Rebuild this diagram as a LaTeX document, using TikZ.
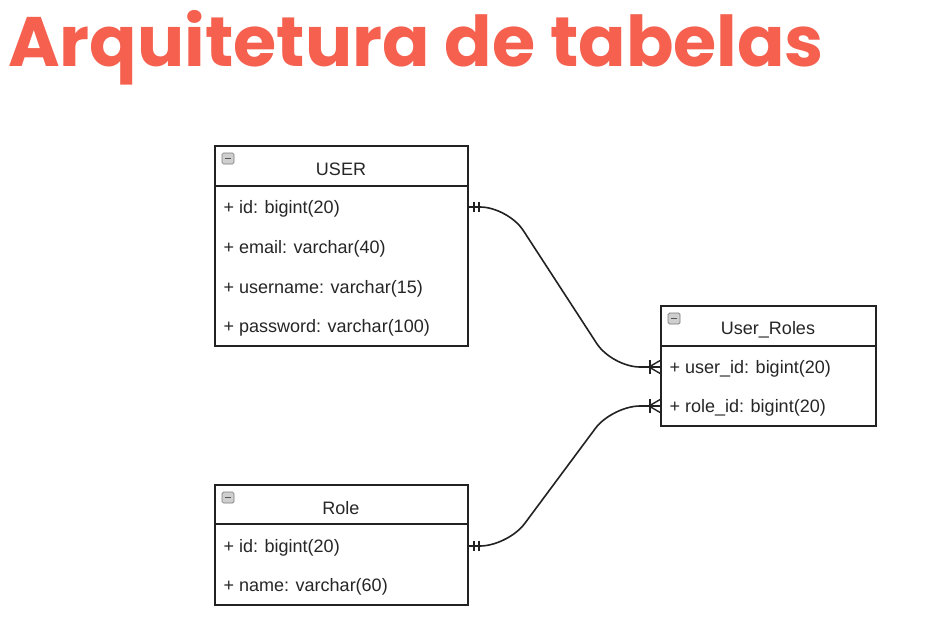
\documentclass[tikz,border=0pt]{standalone}
\usepackage{fontspec}
\setmainfont{Liberation Sans}
\newfontfamily\titlefont{Poppins}
\definecolor{titlered}{HTML}{F5604F}
\definecolor{iconfill}{HTML}{CFCFCF}
\definecolor{iconline}{HTML}{7A7A7A}
\definecolor{linecol}{HTML}{222222}
\begin{document}
\begin{tikzpicture}[x=1pt,y=-1pt,
  tbl/.style={draw=linecol,line width=1.3pt,fill=white},
  hdr/.style={font=\fontsize{18}{21}\selectfont,text=black!85,anchor=center},
  row/.style={font=\fontsize{18}{21}\selectfont,text=black!85,anchor=west},
  conn/.style={draw=linecol,line width=1.6pt,rounded corners=28pt},
  cardmark/.style={draw=linecol,line width=1.4pt}]
\useasboundingbox (0,0) rectangle (950,623);
\fill[white] (0,0) rectangle (950,623);
% title
\node[anchor=base west,inner sep=0,text=titlered,font=\titlefont\bfseries\fontsize{70}{80}\selectfont] (title) at (8,67) {Arquitetura de tabelas};
\tikzset{minusicon/.pic={
  \draw[iconline,fill=iconfill,rounded corners=1.5pt,line width=0.7pt] (0,0) rectangle (12,11);
  \draw[iconline!70!black,line width=1.6pt] (3,5.5) -- (9,5.5);}}
% USER table
\draw[tbl] (215,146) rectangle (468,346);
\draw[tbl] (215,186) -- (468,186);
\pic at (222,153) {minusicon};
\node[hdr] (userh) at (341,169) {USER};
\coordinate (user) at (468,207);
\node[row] (u1) at (220,208.5) {+ id: bigint(20)};
\node[row] (u2) at (220,248.5) {+ email: varchar(40)};
\node[row] (u3) at (220,288.5) {+ username: varchar(15)};
\node[row] (u4) at (220,327.5) {+ password: varchar(100)};
% User_Roles table
\draw[tbl] (661,306) rectangle (876,426);
\draw[tbl] (661,346) -- (876,346);
\pic at (668,313) {minusicon};
\node[hdr] (urh) at (768,329.5) {User\_Roles};
\node[row] (ur1) at (666,368.5) {+ user\_id: bigint(20)};
\node[row] (ur2) at (666,407.5) {+ role\_id: bigint(20)};
\coordinate (urA) at (661,367);
\coordinate (urB) at (661,406);
% Role table
\draw[tbl] (215,485) rectangle (468,605);
\draw[tbl] (215,524) -- (468,524);
\pic at (222,492) {minusicon};
\node[hdr] (roleh) at (341,508) {Role};
\node[row] (r1) at (220,547.5) {+ id: bigint(20)};
\node[row] (r2) at (220,586.5) {+ name: varchar(60)};
\coordinate (role) at (468,546);
% connectors
\draw[conn] (user) -- (508,207) -- (612,367) -- (urA);
\draw[conn] (role) -- (508,546) -- (612,406) -- (urB);
% one-and-only-one marks
\foreach \y in {207,546}{
  \draw[cardmark] (474,\y-5) -- (474,\y+5);
  \draw[cardmark] (479,\y-5) -- (479,\y+5);}
% one-or-many marks
\foreach \y in {367,406}{
  \draw[cardmark] (650,\y-7) -- (650,\y+7);
  \draw[cardmark] (661,\y-7) -- (649,\y) -- (661,\y+7);}
\end{tikzpicture}
\end{document}
